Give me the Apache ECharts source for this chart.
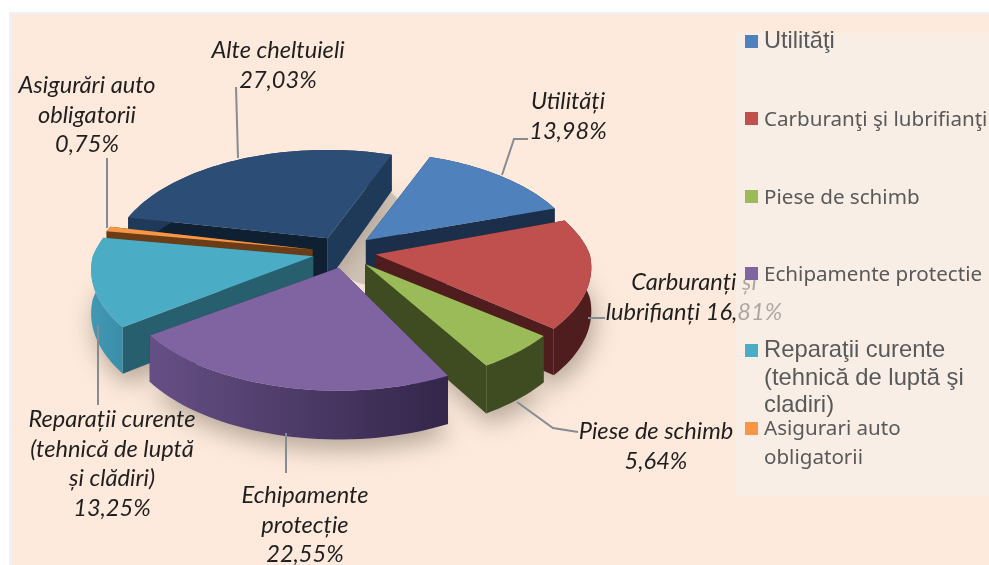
<!DOCTYPE html>
<html>
<head>
<meta charset="utf-8">
<title>Structura cheltuielilor</title>
<script src="https://cdn.jsdelivr.net/npm/echarts@6/dist/echarts.min.js"></script>
<style>
  html, body { margin: 0; padding: 0; background: #fff; }
  #chart { width: 989px; height: 565px; }
</style>
</head>
<body>
<div id="chart"></div>
<script>
// data, clockwise from the first slice
const categories = ['Utilități', 'Carburanți și lubrifianți', 'Piese de schimb', 'Echipamente protecție',
  'Reparații curente (tehnică de luptă și clădiri)', 'Asigurări auto obligatorii', 'Alte cheltuieli'];
const values = [13.98, 16.81, 5.64, 22.55, 13.25, 0.75, 27.03];
const legendNames = ['Utilităţi', 'Carburanţi şi lubrifianţi', 'Piese de schimb', 'Echipamente protectie',
  'Reparaţii curente\n(tehnică de luptă şi\ncladiri)', 'Asigurari auto\nobligatorii'];
const labelTexts = ['Utilități\n13,98%', 'Carburanți și\nlubrifianți 16,81%', 'Piese de schimb\n5,64%',
  'Echipamente\nprotecție\n22,55%', 'Reparații curente\n(tehnică de luptă\nși clădiri)\n13,25%',
  'Asigurări auto\nobligatorii\n0,75%', 'Alte cheltuieli\n27,03%'];

// back slices are painted first
const paintOrder = [6, 5, 4, 0, 1, 2, 3];

const topColors = ['#4f81bd', '#c0504d', '#9bbb59', '#8064a2', '#4bacc6', '#f79646', '#2c4d75'];
const startWallColors = ['#1b2f4a', '#4f1d1d', '#3f4b20', '#33264a', '#285f6e', '#6b3d16', '#0f2033'];
const endWallColors = ['#1b2f4a', '#4f1d1d', '#3f4b20', '#33264a', '#285f6e', '#6b3d16', '#1f3a58'];
const outerColors = [['#1b2f4a', '#1b2f4a'], ['#4f1d1d', '#4f1d1d'], ['#3f4b20', '#3f4b20'],
  ['#664f85', '#33264a'], ['#4199b3', '#3a8ea8'], ['#6b3d16', '#6b3d16'], ['#1f3a58', '#1f3a58']];

// pie projection
const cx = 344, cy = 252, radius = 212, tilt = 0.5, depth = 43, explode = 32, firstAngle = 18;
const perspBack = 0.2, perspFront = 0.12;
// the original's perspective bends slice edges a little, degrees per slice
const startTurn = [3, 2, 0, 4, 3, 2, 1];
const endTurn = [3, 1, 0, 4, 2, 2, 3];
const radiusScale = [1, 1.01, 1, 1.02, 1.04, 1.02, 1];

const toRad = (d) => d * Math.PI / 180;
const total = values.reduce((a, b) => a + b, 0);

function rimPoint(apex, deg, drop, scale) {
  const t = toRad(deg);
  const c = Math.cos(t);
  const s = 1 / (1 + (c > 0 ? perspBack : perspFront) * c);
  return [
    apex[0] + radius * scale * s * Math.sin(t),
    apex[1] - radius * scale * s * tilt * c + drop * s
  ];
}

function sliceGeometry(idx, value) {
  let before = 0;
  for (let k = 0; k < idx; k++) before += values[k];
  const rawStart = firstAngle + before / total * 360;
  const rawEnd = rawStart + value / total * 360;
  const mid = toRad((rawStart + rawEnd) / 2);
  const apex = [cx + explode * Math.sin(mid), cy - explode * tilt * Math.cos(mid)];
  const start = rawStart + startTurn[idx];
  const end = rawEnd + endTurn[idx];
  const rim = [], rimLow = [];
  const steps = Math.max(2, Math.ceil((end - start) / 2));
  for (let n = 0; n <= steps; n++) {
    const deg = start + (end - start) * n / steps;
    rim.push(rimPoint(apex, deg, 0, radiusScale[idx]));
    rimLow.push(rimPoint(apex, deg, depth, radiusScale[idx]));
  }
  return { apex, apexLow: [apex[0], apex[1] + depth], rim, rimLow };
}

function renderSlice(params, api) {
  const idx = api.value(0);
  const { apex, apexLow, rim, rimLow } = sliceGeometry(idx, api.value(1));
  const last = rim.length - 1;
  const outer = outerColors[idx];
  const children = [
    { type: 'polygon', shape: { points: [apex, rim[0], rimLow[0], apexLow] }, style: { fill: startWallColors[idx] } },
    { type: 'polygon', shape: { points: [apex, rim[last], rimLow[last], apexLow] }, style: { fill: endWallColors[idx] } },
    { type: 'polygon', shape: { points: rim.concat(rimLow.slice().reverse()) },
      style: { fill: new echarts.graphic.LinearGradient(0, 0, 1, 0, [
        { offset: 0, color: outer[0] }, { offset: 1, color: outer[1] }
      ]) } },
    { type: 'polygon', shape: { points: [apex].concat(rim) }, style: { fill: topColors[idx] } }
  ];
  return { type: 'group', children: children };
}

// blurred footprint of a slice, drawn under all the slices
function renderShadow(params, api) {
  const { apexLow, rimLow } = sliceGeometry(api.value(0), api.value(1));
  return {
    type: 'polygon',
    shape: { points: [apexLow].concat(rimLow) },
    style: { fill: '#d3c6ba', shadowBlur: 24, shadowOffsetX: 3, shadowOffsetY: 10, shadowColor: '#b5a698' }
  };
}

// label and legend placement
const labelX = [568, 694, 656, 305, 112, 87, 278];
const labelY = [87, 268, 417, 481, 405, 71, 36];
const leaders = [
  [[528, 139], [514, 139], [502, 175]],
  [[605, 318], [588, 318]],
  [[578, 432], [553, 428], [517, 402]],
  [[286, 433], [286, 473]],
  [[98, 325], [98, 405]],
  [[107, 158], [107, 228]],
  [[236, 87], [238, 158]]
];
const legendTops = [35, 112, 190, 267, 344, 422];
const legendFont = [
  { size: 23.6, family: 'Liberation Sans', line: 27, dy: -7 },
  { size: 20.6, family: 'Noto Sans', line: 29, dy: -6 },
  { size: 20.6, family: 'Noto Sans', line: 29, dy: -6 },
  { size: 20.6, family: 'Noto Sans', line: 29, dy: -6 },
  { size: 23.8, family: 'Liberation Sans', line: 27.5, dy: -7 },
  { size: 20.6, family: 'Noto Sans', line: 29, dy: -7 }
];

const graphics = [
  // frame
  { type: 'rect', z: 0, shape: { x: 9, y: 12, width: 980, height: 553 }, style: { fill: '#eef2f7' } },
  { type: 'rect', z: 0, shape: { x: 11, y: 14, width: 978, height: 551 }, style: { fill: '#fdeadc' } },
  // grey showing through the gaps between the slices
  { type: 'ellipse', z: 1, shape: { cx: cx + 26, cy: cy - 17, rx: 40, ry: 50 }, style: { fill: '#d3c6ba' } }
];

leaders.forEach((points) => {
  graphics.push({
    type: 'polyline', z: 3,
    shape: { points: points },
    style: { fill: null, stroke: '#868d92', lineWidth: 2 }
  });
});

labelTexts.forEach((text, i) => {
  graphics.push({
    type: 'text', z: 3, x: labelX[i], y: labelY[i],
    style: {
      text: text,
      fill: '#1f1f1f',
      font: 'italic 23.6px Lato',
      align: 'center',
      verticalAlign: 'top',
      lineHeight: 29.5
    }
  });
});

// legend box sits over the labels and greys them
graphics.push({
  type: 'rect', z: 5,
  shape: { x: 736, y: 33, width: 253, height: 463 },
  style: { fill: 'rgba(246,240,234,0.65)' }
});

legendNames.forEach((name, i) => {
  const f = legendFont[i];
  graphics.push({
    type: 'rect', z: 6,
    shape: { x: 745, y: legendTops[i], width: 13, height: 13 },
    style: { fill: topColors[i] }
  });
  graphics.push({
    type: 'text', z: 6, x: 764, y: legendTops[i] + f.dy,
    style: {
      text: name,
      fill: '#595959',
      font: f.size + 'px "' + f.family + '"',
      verticalAlign: 'top',
      lineHeight: f.line
    }
  });
});

const sliceData = paintOrder.map((i) => ({ name: categories[i], value: [i, values[i]] }));

const chart = echarts.init(document.getElementById('chart'), null, { renderer: 'canvas' });
chart.setOption({
  animation: false,
  backgroundColor: '#fff',
  tooltip: { show: false },
  graphic: { elements: graphics },
  series: [
    { type: 'custom', coordinateSystem: 'none', z: 1, silent: true, renderItem: renderShadow, data: sliceData },
    { type: 'custom', coordinateSystem: 'none', z: 2, silent: true, renderItem: renderSlice, data: sliceData }
  ]
});
</script>
</body>
</html>
